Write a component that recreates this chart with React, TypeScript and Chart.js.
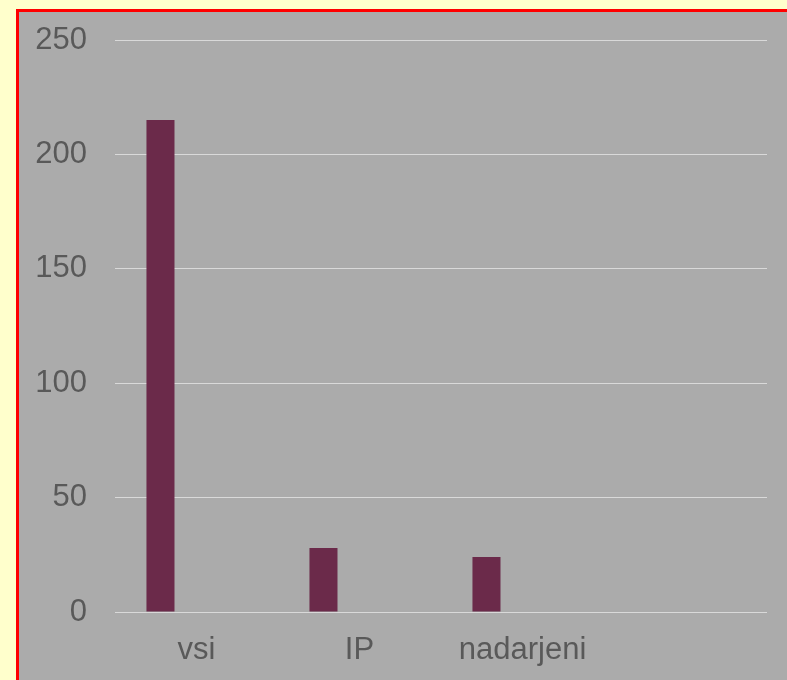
import React, { useEffect, useRef } from "react";
import { Chart, registerables } from "chart.js";

Chart.register(...registerables);

const categories = ["vsi", "IP", "nadarjeni", ""];
const seriesMain = [215, 28, 24, null];
const seriesEmpty = [null, null, null, null];
const yTicks = [0, 50, 100, 150, 200, 250];

export default function App() {
  const ref = useRef<HTMLCanvasElement | null>(null);

  useEffect(() => {
    if (!ref.current) return;
    const font = { family: "'Liberation Sans', Arial, sans-serif", size: 31 };
    const chart = new Chart(ref.current, {
      type: "bar",
      data: {
        labels: categories,
        datasets: [
          {
            data: seriesMain,
            backgroundColor: "#6B2A4A",
            borderWidth: 0,
            categoryPercentage: 0.884,
            barPercentage: 0.389,
          },
          {
            data: seriesEmpty,
            backgroundColor: "#6B2A4A",
            borderWidth: 0,
            categoryPercentage: 0.884,
            barPercentage: 0.389,
          },
        ],
      },
      options: {
        responsive: false,
        animation: false,
        layout: { padding: { top: 28, right: 20, bottom: 0, left: 0 } },
        plugins: {
          legend: { display: false },
          tooltip: { enabled: false },
        },
        scales: {
          x: {
            grid: { display: false, drawTicks: false },
            border: { display: false },
            ticks: { color: "#595959", font, padding: 20, maxRotation: 0, autoSkip: false },
            afterFit: (s: any) => {
              s.height = 68;
            },
          },
          y: {
            min: yTicks[0],
            max: yTicks[yTicks.length - 1],
            grid: { color: "#D9D9D9", lineWidth: 1, drawTicks: false },
            border: { display: false },
            ticks: { stepSize: 50, color: "#595959", font, padding: 28 },
            afterFit: (s: any) => {
              s.width = 96;
              s.paddingTop = 0;
              s.paddingBottom = 0;
            },
          },
        },
      },
    });
    return () => chart.destroy();
  }, []);

  return (
    <div
      style={{
        position: "fixed",
        left: 0,
        top: 0,
        width: 787,
        height: 680,
        background: "#FFFFCC",
        overflow: "hidden",
      }}
    >
      <div
        style={{
          position: "absolute",
          left: 16,
          top: 9,
          width: 768,
          height: 668,
          borderLeft: "3px solid #FF0000",
          borderTop: "3px solid #FF0000",
          background: "#ABABAB",
        }}
      >
        <canvas ref={ref} width={768} height={668} style={{ display: "block" }} />
      </div>
    </div>
  );
}
